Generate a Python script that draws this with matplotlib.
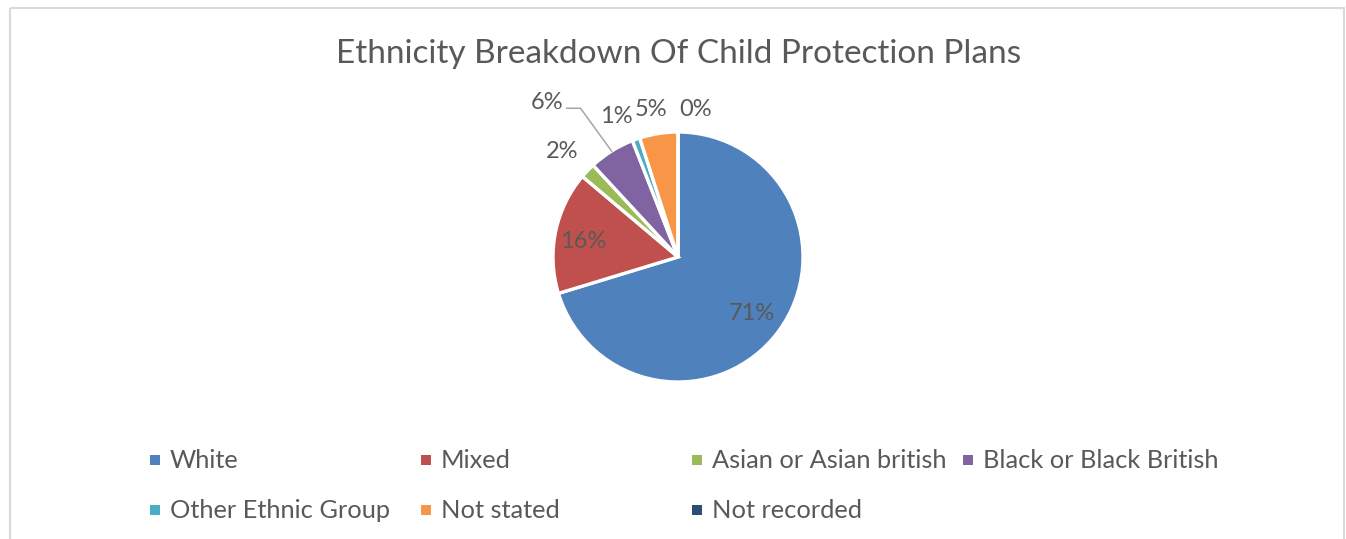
import numpy as np
import matplotlib
matplotlib.use("Agg")
import matplotlib.pyplot as plt
from matplotlib.patches import Rectangle

# ethnicity breakdown (percent of child protection plans)
categories = ["White", "Mixed", "Asian or Asian british", "Black or Black British",
              "Other Ethnic Group", "Not stated", "Not recorded"]
percents = [71, 16, 2, 6, 1, 5, 0]
colors = ["#4F81BD", "#C0504D", "#9BBB59", "#8064A2", "#4BACC6", "#F79646", "#2C4D75"]

# label layout: distance from centre (in radii) and angular nudge (degrees)
label_dist = [0.74, 0.77, 1.25, 1.62, 1.23, 1.20, 1.19]
label_nudge = [-0.8, 2.6, 1.3, 8.3, 3.9, 1.3, -6.8]

W, H = 1346, 539
text_col = "#595959"
plt.rcParams["font.family"] = ["Lato", "DejaVu Sans"]

fig = plt.figure(figsize=(W / 100, H / 100), dpi=100)

# overlay in pixel coordinates for frame, title and legend
over = fig.add_axes([0, 0, 1, 1])
over.set_xlim(0, W)
over.set_ylim(H, 0)
over.set_axis_off()
over.add_patch(Rectangle((10, 8), 1334, 560, fill=False, ec="#d9d9d9", lw=1.5))
over.text(679, 54, "Ethnicity Breakdown Of Child Protection Plans", ha="center",
          va="center", fontsize=24, color=text_col)

# pie: 1 data unit = 125 px, centre at (678, 257)
cx, cy, r = 678, 257, 125
ax = fig.add_axes([(cx - 2 * r) / W, 1 - (cy + 2 * r) / H, 4 * r / W, 4 * r / H])
ax.set_axis_off()
wedges, _ = ax.pie(percents, colors=colors, startangle=90, counterclock=False,
                   normalize=True, radius=1,
                   wedgeprops=dict(edgecolor="white", linewidth=2.4))
ax.set_xlim(-2, 2)
ax.set_ylim(-2, 2)
for w in wedges:
    w.set_clip_on(False)

for i, w in enumerate(wedges):
    mid = np.deg2rad((w.theta1 + w.theta2) / 2 + label_nudge[i])
    x = label_dist[i] * np.cos(mid)
    y = label_dist[i] * np.sin(mid)
    ax.text(x, y, f"{percents[i]}%", ha="center", va="center", fontsize=17,
            color=text_col, clip_on=False)

# leader line for the Black or Black British label
bw = wedges[3]
bmid = np.deg2rad((bw.theta1 + bw.theta2) / 2)
ax.plot([-0.89, -0.78, np.cos(bmid)], [1.19, 1.19, np.sin(bmid)],
        color="#a6a6a6", lw=1.1, clip_on=False)

# legend: four equal-width columns, two rows
x0, col_w = 155, 271
rows_y = [460, 510]
for i, (name, c) in enumerate(zip(categories, colors)):
    x = x0 + (i % 4) * col_w
    y = rows_y[i // 4]
    over.scatter([x], [y], marker="s", s=44, color=c, linewidths=0)
    over.text(x + 15, y, name, ha="left", va="center", fontsize=18.3, color=text_col)

fig.savefig("out.png", dpi=100)
